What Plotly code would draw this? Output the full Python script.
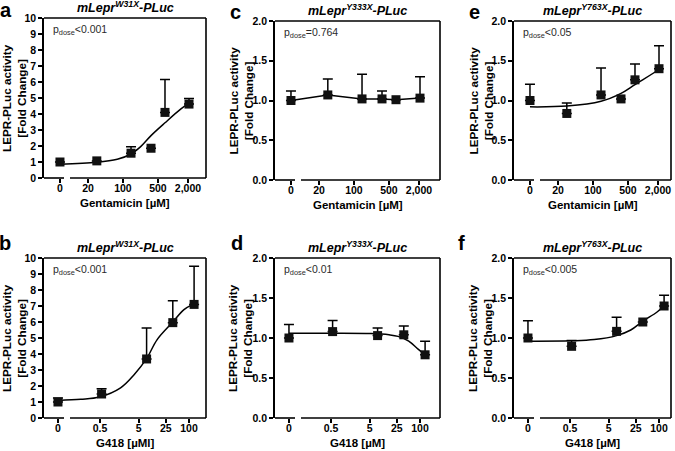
import plotly.graph_objects as go

W, H = 675, 451
FONT = "Liberation Sans"

# ---------------- data ----------------
gent_doses = [0, 30, 145, 364, 693, 2094]
g418_doses = [0, 0.55, 8, 38, 135]
gent_ticks = [0, 20, 100, 500, 2000]
gent_ticktext = ["0", "20", "100", "500", "2,000"]
g418_ticks = [0, 0.5, 5, 25, 100]
g418_ticktext = ["0", "0.5", "5", "25", "100"]

# panel a  (W31X, gentamicin)
a_mean = [1.0, 1.07, 1.55, 1.86, 4.1, 4.62]
a_errup = [0.0, 0.0, 0.41, 0.0, 2.05, 0.35]
a_fit_x = [0, 30, 77, 145, 226, 364, 693, 1425, 2500]
a_fit_y = [0.86, 0.98, 1.17, 1.5, 1.96, 2.65, 3.45, 4.3, 4.85]

# panel c  (Y333X, gentamicin)
c_mean = [1.0, 1.07, 1.02, 1.02, 1.01, 1.03]
c_errup = [0.12, 0.20, 0.31, 0.10, 0.0, 0.27]

# panel e  (Y763X, gentamicin)
e_mean = [1.0, 0.837, 1.07, 1.02, 1.26, 1.40]
e_errup = [0.205, 0.13, 0.34, 0.0, 0.20, 0.29]
e_fit_x = [0, 30, 145, 364, 693, 2094, 2300]
e_fit_y = [0.92, 0.93, 0.99, 1.09, 1.2, 1.39, 1.41]

# panel b  (W31X, G418)
b_mean = [1.0, 1.5, 3.69, 5.96, 7.1]
b_errup = [0.25, 0.33, 1.94, 1.37, 2.38]
b_fit_x = [0, 0.16, 0.49, 1.7, 3.8, 7.9, 15, 38, 74, 125]
b_fit_y = [1.1, 1.17, 1.31, 1.88, 2.7, 3.69, 4.9, 6.0, 6.77, 7.1]

# panel d  (Y333X, G418)
d_mean = [1.0, 1.08, 1.03, 1.04, 0.79]
d_errup = [0.17, 0.14, 0.095, 0.11, 0.17]
d_fit_x = [0, 0.55, 5.4, 15.8, 27, 51, 89, 135]
d_fit_y = [1.06, 1.06, 1.055, 1.04, 1.02, 0.96, 0.86, 0.79]

# panel f  (Y763X, G418)
f_mean = [1.0, 0.896, 1.083, 1.2, 1.4]
f_errup = [0.217, 0.074, 0.175, 0.0, 0.133]
f_fit_x = [0, 0.55, 2.1, 8, 18.6, 38, 89, 150]
f_fit_y = [0.96, 0.965, 0.98, 1.03, 1.1, 1.21, 1.325, 1.42]

p_texts = {"a": "p<sub>dose</sub>&lt;0.001", "c": "p<sub>dose</sub>=0.764",
           "e": "p<sub>dose</sub>&lt;0.05", "b": "p<sub>dose</sub>&lt;0.001",
           "d": "p<sub>dose</sub>&lt;0.01", "f": "p<sub>dose</sub>&lt;0.005"}
titles = {"a": "W31X", "c": "Y333X", "e": "Y763X", "b": "W31X", "d": "Y333X", "f": "Y763X"}
xtitles = {"a": "Gentamicin [µM]", "c": "Gentamicin [µM]", "e": "Gentamicin [µM]",
           "b": "G418 [µMl]", "d": "G418 [µM]", "f": "G418 [µM]"}

# ---------------- layout geometry (pixels) ----------------
boxes = {  # L, R, T, B
    "a": (44, 206, 18, 178), "c": (275, 440, 21, 180), "e": (514, 671, 21, 180),
    "b": (44, 206, 258, 418), "d": (275, 440, 258, 418), "f": (514, 671, 258, 418),
}
ytitle_x = {"a": 14, "b": 14, "c": 240, "d": 240, "e": 480, "f": 480}
letter_pos = {"a": (6, 10), "c": (235, 12), "e": (474, 12), "b": (5, 243), "d": (237, 243), "f": (461, 243)}

GENT_L0, GENT_PPD, GENT_ZERO = 0.421, 50.0, 5.5     # log10 at left edge, px/decade, position of dose 0
G418_L0, G418_PPD, G418_ZERO = -1.748, 38.7, 0.041


def px(x):
    return x / W


def py(y):
    return 1 - y / H


fig = go.Figure()
shapes, annotations = [], []
panels = [
    ("a", 1, "gent", a_mean, a_errup, a_fit_x, a_fit_y, 10),
    ("c", 2, "gent", c_mean, c_errup, None, None, 2),
    ("e", 3, "gent", e_mean, e_errup, e_fit_x, e_fit_y, 2),
    ("b", 4, "g418", b_mean, b_errup, b_fit_x, b_fit_y, 10),
    ("d", 5, "g418", d_mean, d_errup, d_fit_x, d_fit_y, 2),
    ("f", 6, "g418", f_mean, f_errup, f_fit_x, f_fit_y, 2),
]

LW = 1.6
TICKFONT = dict(family=FONT, size=10.5, color="black", weight="bold")
for key, i, drug, mean, errup, fx, fy, ymax in panels:
    L, R, T, B = boxes[key]
    if drug == "gent":
        doses, ticks, ttext, L0, ppd, zero = gent_doses, gent_ticks, gent_ticktext, GENT_L0, GENT_PPD, GENT_ZERO
    else:
        doses, ticks, ttext, L0, ppd, zero = g418_doses, g418_ticks, g418_ticktext, G418_L0, G418_PPD, G418_ZERO
    xs = [zero if d == 0 else d for d in doses]
    tv = [zero if t == 0 else t for t in ticks]
    xa = "x" if i == 1 else f"x{i}"
    ya = "y" if i == 1 else f"y{i}"
    sfx = "" if i == 1 else str(i)

    if fx is not None:
        fxs = [zero if d == 0 else d for d in fx]
        fig.add_trace(go.Scatter(x=fxs, y=fy, mode="lines", line=dict(color="black", width=1.5, shape="spline"),
                                 xaxis=xa, yaxis=ya, showlegend=False, hoverinfo="skip"))
        mode = "markers"
    else:
        mode = "lines+markers"
    fig.add_trace(go.Scatter(
        x=xs, y=mean, mode=mode, xaxis=xa, yaxis=ya, showlegend=False,
        line=dict(color="black", width=1.5),
        marker=dict(symbol="square", size=9, color="#111111"),
        error_y=dict(type="data", symmetric=False, array=errup, arrayminus=[0] * len(errup),
                     color="black", thickness=1.5, width=5),
        cliponaxis=False,
    ))

    fig.layout["xaxis" + sfx] = dict(
        type="log", domain=[px(L), px(R)], range=[L0, L0 + (R - L) / ppd], autorange=False, anchor=ya,
        automargin=False, showgrid=False, zeroline=False, showline=False, ticks="outside", ticklen=4,
        tickwidth=1.5, tickcolor="black", tickvals=tv, ticktext=ttext, ticklabelstandoff=-4,
        tickfont=TICKFONT,
    )
    yopts = dict(
        domain=[py(B), py(T)], range=[0, ymax], autorange=False, anchor=xa, showgrid=False, zeroline=False,
        automargin=False, showline=True, linecolor="black", linewidth=LW, ticks="outside", ticklen=4,
        tickwidth=1.5, tickcolor="black", tickfont=TICKFONT,
    )
    if ymax == 10:
        yopts.update(dtick=1, tickformat="d")
    else:
        yopts.update(dtick=0.5, tickformat=".1f")
    fig.layout["yaxis" + sfx] = yopts

    # box: top, right, broken bottom
    line = dict(color="black", width=LW)
    shapes.append(dict(type="line", xref="paper", yref="paper", x0=px(L), x1=px(R), y0=py(T), y1=py(T), line=line))
    shapes.append(dict(type="line", xref="paper", yref="paper", x0=px(R), x1=px(R), y0=py(T), y1=py(B), line=line))
    shapes.append(dict(type="line", xref="paper", yref="paper", x0=px(L), x1=px(L + 20), y0=py(B), y1=py(B), line=line))
    shapes.append(dict(type="line", xref="paper", yref="paper", x0=px(L + 26), x1=px(R), y0=py(B), y1=py(B), line=line))

    cx = (L + R) / 2
    # panel title
    annotations.append(dict(xref="paper", yref="paper", x=px(cx), y=py(T - 11), xanchor="center", yanchor="middle",
                            text=f"<b><i>mLepr<sup>{titles[key]}</sup>-PLuc</i></b>", showarrow=False,
                            font=dict(family=FONT, size=12.5, color="black")))
    # x title
    annotations.append(dict(xref="paper", yref="paper", x=px(cx), y=py(B + 25), xanchor="center", yanchor="middle",
                            text=f"<b>{xtitles[key]}</b>", showarrow=False,
                            font=dict(family=FONT, size=11.5, color="black")))
    # y title
    annotations.append(dict(xref="paper", yref="paper", x=px(ytitle_x[key]), y=py((T + B) / 2), xanchor="center",
                            yanchor="middle", textangle=-90, text="<b>LEPR-PLuc activity<br>[Fold Change]</b>",
                            showarrow=False, font=dict(family=FONT, size=11.7, color="black")))
    # p value
    annotations.append(dict(xref="paper", yref="paper", x=px(L + 7), y=py(T + 12), xanchor="left", yanchor="middle",
                            text=p_texts[key], showarrow=False, font=dict(family=FONT, size=10.5, color="#2a2a2a")))
    # panel letter
    lx, ly = letter_pos[key]
    annotations.append(dict(xref="paper", yref="paper", x=px(lx), y=py(ly), xanchor="center", yanchor="middle",
                            text=f"<b>{key}</b>", showarrow=False, font=dict(family=FONT, size=20, color="black")))

fig.update_layout(width=W, height=H, autosize=False, margin=dict(l=0, r=0, t=0, b=0, autoexpand=False),
                  paper_bgcolor="white", plot_bgcolor="white", shapes=shapes, annotations=annotations)
fig.write_html("out.html", config={"displayModeBar": False},
               post_script="document.body.style.margin='0px';")
